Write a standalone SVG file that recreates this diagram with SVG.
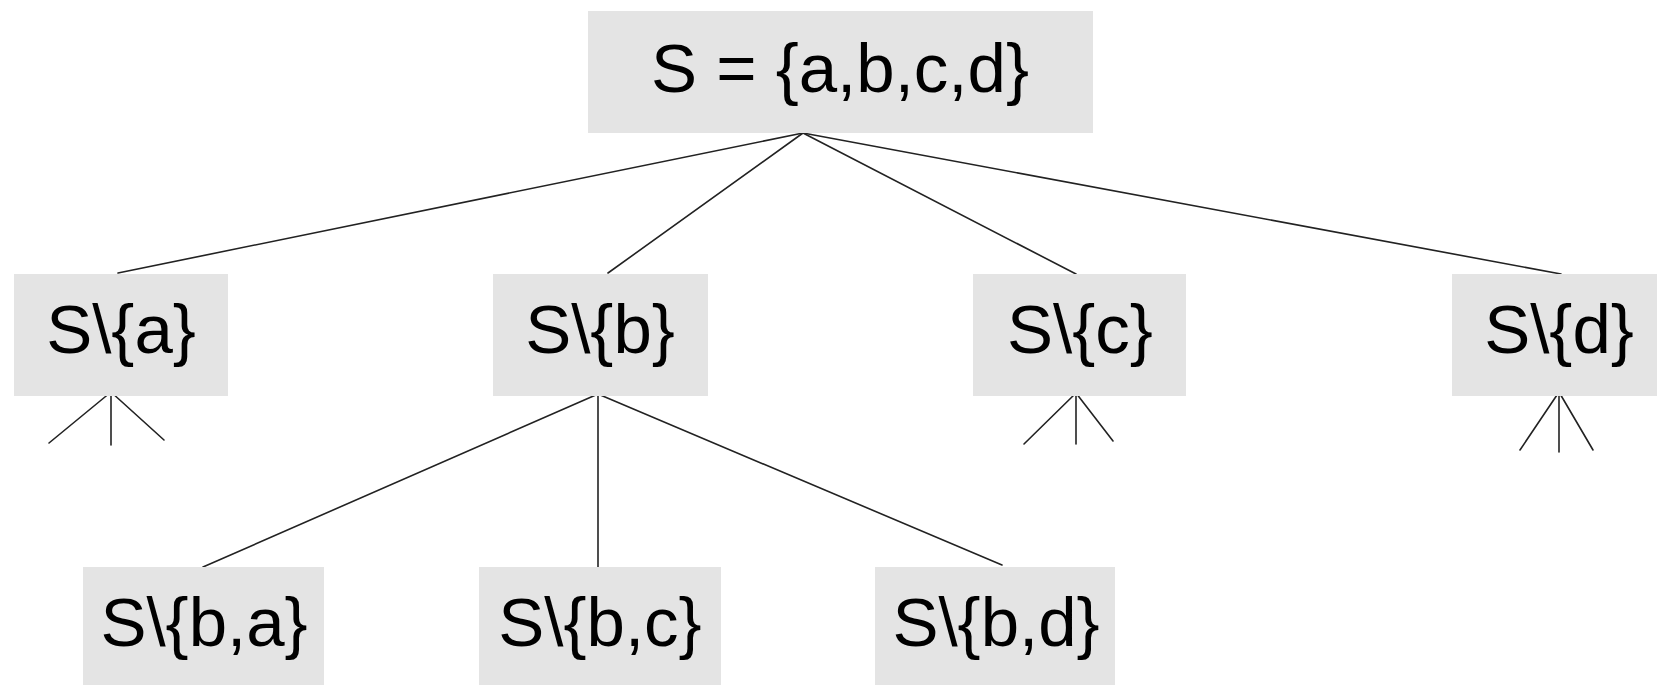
<svg xmlns="http://www.w3.org/2000/svg" width="1657" height="685" viewBox="0 0 1657 685">
<style>
.box{fill:#e4e4e4;stroke:none}
.lbl{font-family:"Liberation Sans",Arial,sans-serif;font-size:69px;fill:#000;text-anchor:middle}
.edge{stroke:#222;stroke-width:1.6;fill:none;stroke-linecap:round}
</style>
<rect width="1657" height="685" fill="#fff"/>
<g id="edges">
<line class="edge" x1="803" y1="133" x2="118" y2="273"/>
<line class="edge" x1="803" y1="133" x2="608" y2="273"/>
<line class="edge" x1="803" y1="133" x2="1076" y2="274"/>
<line class="edge" x1="803" y1="133" x2="1561" y2="274"/>
<line class="edge" x1="111" y1="392" x2="49" y2="443"/>
<line class="edge" x1="111" y1="392" x2="111" y2="445"/>
<line class="edge" x1="111" y1="392" x2="164" y2="440"/>
<line class="edge" x1="598" y1="394" x2="203" y2="567"/>
<line class="edge" x1="598" y1="394" x2="598" y2="567"/>
<line class="edge" x1="598" y1="394" x2="1002" y2="565"/>
<line class="edge" x1="1076" y1="393" x2="1024" y2="444"/>
<line class="edge" x1="1076" y1="393" x2="1076" y2="444"/>
<line class="edge" x1="1076" y1="393" x2="1113" y2="441"/>
<line class="edge" x1="1559" y1="392" x2="1520" y2="450"/>
<line class="edge" x1="1559" y1="392" x2="1559" y2="452"/>
<line class="edge" x1="1559" y1="392" x2="1593" y2="450"/>
</g>
<g id="root">
<rect class="box" x="588" y="11" width="505" height="122"/>
<text class="lbl" x="840" y="92">S = {a,b,c,d}</text>
</g>
<g id="s-a">
<rect class="box" x="14" y="274" width="214" height="122"/>
<text class="lbl" x="121" y="353">S\{a}</text>
</g>
<g id="s-b">
<rect class="box" x="493" y="274" width="215" height="122"/>
<text class="lbl" x="600" y="353">S\{b}</text>
</g>
<g id="s-c">
<rect class="box" x="973" y="274" width="213" height="122"/>
<text class="lbl" x="1080" y="353">S\{c}</text>
</g>
<g id="s-d">
<rect class="box" x="1452" y="274" width="205" height="122"/>
<text class="lbl" x="1559" y="353">S\{d}</text>
</g>
<g id="s-ba">
<rect class="box" x="83" y="567" width="241" height="118"/>
<text class="lbl" x="204" y="646">S\{b,a}</text>
</g>
<g id="s-bc">
<rect class="box" x="479" y="567" width="242" height="118"/>
<text class="lbl" x="600" y="646">S\{b,c}</text>
</g>
<g id="s-bd">
<rect class="box" x="875" y="567" width="240" height="118"/>
<text class="lbl" x="996" y="646">S\{b,d}</text>
</g>
</svg>
